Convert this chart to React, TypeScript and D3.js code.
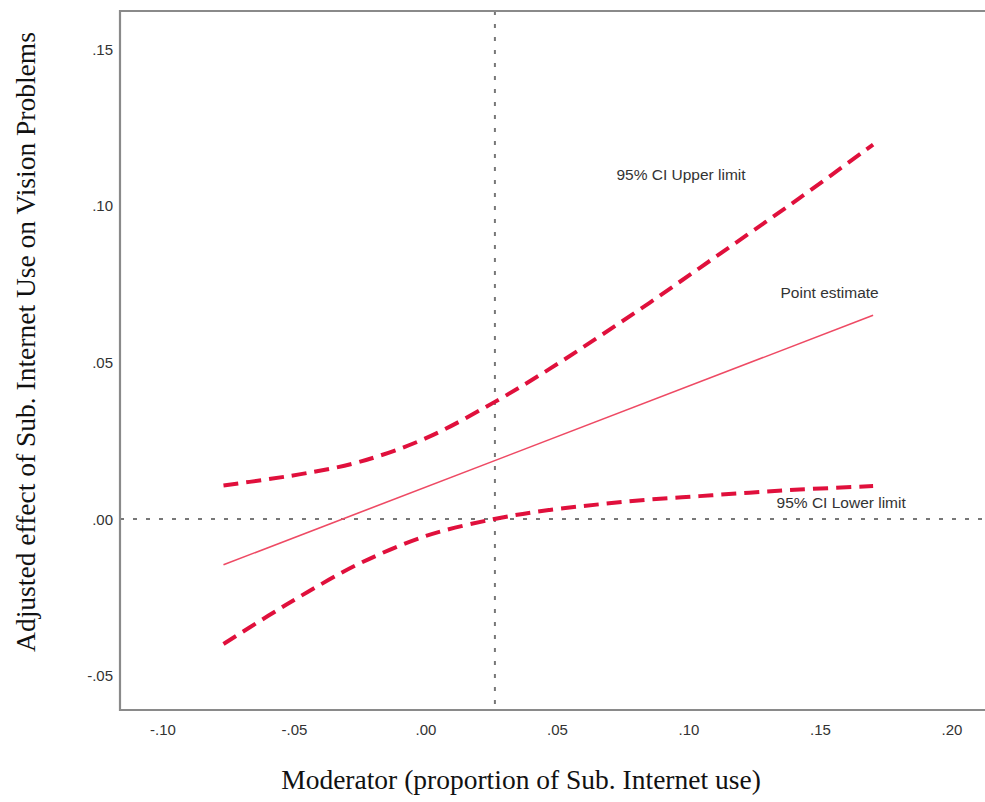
import React from "react";
import * as d3 from "d3";

const moderator = [-0.077, -0.06, -0.045, -0.025, 0.0, 0.026, 0.047, 0.066, 0.085, 0.104, 0.123, 0.142, 0.17];
const upperCI = [0.0107, 0.0127, 0.0147, 0.0183, 0.0258, 0.0373, 0.0479, 0.0583, 0.069, 0.0801, 0.0912, 0.1024, 0.1195];
const lowerCI = [-0.0399, -0.0309, -0.0233, -0.0141, -0.0054, 0.0, 0.0029, 0.0047, 0.0062, 0.0073, 0.0084, 0.0094, 0.0105];
const pointX = [-0.077, 0.17];
const pointEst = [-0.0146, 0.065];

const xTicks = [-0.1, -0.05, 0.0, 0.05, 0.1, 0.15, 0.2];
const xTickLabels = ["-.10", "-.05", ".00", ".05", ".10", ".15", ".20"];
const yTicks = [-0.05, 0.0, 0.05, 0.1, 0.15];
const yTickLabels = ["-.05", ".00", ".05", ".10", ".15"];

const jnPoint = 0.0262;

const labels = [
  { text: "95% CI Upper limit", x: 0.0724, y: 0.11 },
  { text: "Point estimate", x: 0.1348, y: 0.0723 },
  { text: "95% CI Lower limit", x: 0.1333, y: 0.0051 },
];

const xTitle = "Moderator (proportion of Sub. Internet use)";
const yTitle = "Adjusted effect of Sub. Internet Use on Vision Problems";

export default function App() {
  const W = 985;
  const H = 802;
  const left = 120, top = 11, bottom = 710, right = 1000;
  const x = d3.scaleLinear().domain([-0.1, 0.2]).range([163, 952]);
  const y = d3.scaleLinear().domain([0, 0.15]).range([519, 49]);

  const curve = d3
    .line<[number, number]>()
    .x((d) => x(d[0]))
    .y((d) => y(d[1]))
    .curve(d3.curveCatmullRom.alpha(0.5));

  const upperPts = moderator.map((m, i) => [m, upperCI[i]] as [number, number]);
  const lowerPts = moderator.map((m, i) => [m, lowerCI[i]] as [number, number]);
  const pointPts = pointX.map((m, i) => [m, pointEst[i]] as [number, number]);

  const sans = "Arial, 'Liberation Sans', sans-serif";
  const serif = "'Times New Roman', 'Liberation Serif', serif";
  const red = "#e0103c";

  return (
    <svg
      width={W}
      height={H}
      style={{ position: "absolute", left: 0, top: 0, background: "#fff" }}
    >
      <rect x={0} y={0} width={W} height={H} fill="#fff" />
      {/* reference lines */}
      <line
        x1={left}
        x2={right}
        y1={y(0)}
        y2={y(0)}
        stroke="#777"
        strokeWidth={2}
        strokeDasharray="4,9"
      />
      <line
        x1={x(jnPoint)}
        x2={x(jnPoint)}
        y1={top}
        y2={bottom}
        stroke="#777"
        strokeWidth={2}
        strokeDasharray="4,9"
      />
      {/* CI curves */}
      <path d={curve(upperPts) || ""} fill="none" stroke={red} strokeWidth={4} strokeDasharray="15,8" />
      <path d={curve(lowerPts) || ""} fill="none" stroke={red} strokeWidth={4} strokeDasharray="15,8" />
      <path d={curve(pointPts) || ""} fill="none" stroke="#ee4a64" strokeWidth={1.6} />
      {/* frame */}
      <path
        d={`M${right},${top} H${left} V${bottom} H${right}`}
        fill="none"
        stroke="#8a8a8a"
        strokeWidth={2.2}
      />
      {/* y tick labels */}
      {yTicks.map((t, i) => (
        <text
          key={"y" + i}
          x={113}
          y={y(t)}
          dy="0.38em"
          textAnchor="end"
          fontFamily={sans}
          fontSize={15}
          fill="#333"
        >
          {yTickLabels[i]}
        </text>
      ))}
      {/* x tick labels */}
      {xTicks.map((t, i) => (
        <text
          key={"x" + i}
          x={x(t)}
          y={730}
          dy="0.35em"
          textAnchor="middle"
          fontFamily={sans}
          fontSize={15}
          fill="#333"
        >
          {xTickLabels[i]}
        </text>
      ))}
      {/* annotations */}
      {labels.map((l, i) => (
        <text
          key={"l" + i}
          x={x(l.x)}
          y={y(l.y)}
          dy="0.35em"
          fontFamily={sans}
          fontSize={15.5}
          fill="#333"
        >
          {l.text}
        </text>
      ))}
      {/* titles */}
      <text
        x={521}
        y={789}
        textAnchor="middle"
        fontFamily={serif}
        fontSize={27.5}
        fill="#111"
      >
        {xTitle}
      </text>
      <text
        transform={`translate(35,${342}) rotate(-90)`}
        textAnchor="middle"
        fontFamily={serif}
        fontSize={27.5}
        fill="#111"
      >
        {yTitle}
      </text>
    </svg>
  );
}
